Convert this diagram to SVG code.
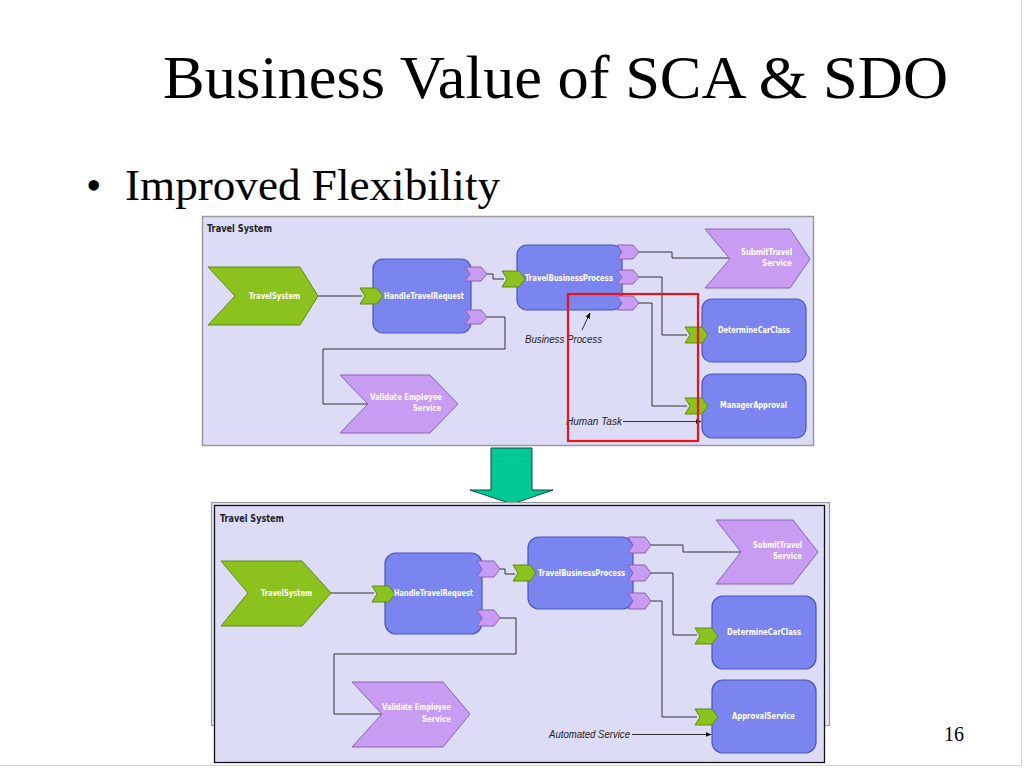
<svg xmlns="http://www.w3.org/2000/svg" width="1024" height="768" viewBox="0 0 1024 768">
<style>
.title{font-family:"Liberation Serif","Times New Roman",serif;fill:#000}
.frame{fill:#dcdcf7;stroke:#9a9a9a;stroke-width:1.5}
.g{fill:#8cc21e;stroke:#5e8a12;stroke-width:1}
.b{fill:#7b85ef;stroke:#4b55b5;stroke-width:1.2}
.p{fill:#c89cf3;stroke:#8a62b2;stroke-width:1}
.lbl{font-family:"DejaVu Sans Condensed","DejaVu Sans","Liberation Sans",sans-serif;font-stretch:condensed;font-weight:bold;fill:#fff;font-size:8px}
.hdr{font-family:"DejaVu Sans Condensed","DejaVu Sans","Liberation Sans",sans-serif;font-stretch:condensed;font-weight:bold;fill:#222;font-size:10px}
.note{font-family:"Liberation Sans","Arial",sans-serif;font-style:italic;fill:#222;font-size:10px}
.ln{fill:none;stroke:#333;stroke-width:1}
</style>
<defs>
<path id="port" d="M0,0 H16 L22,7 L16,14 H0 L5,7 Z"/>
<path id="portL" d="M0,0 H17 L23,8 L17,16 H0 L5,8 Z"/>
<marker id="ah" viewBox="0 0 10 10" refX="9" refY="5" markerWidth="6" markerHeight="6" orient="auto"><path d="M0,1 L10,5 L0,9 Z" fill="#111"/></marker>
</defs>
<rect width="1024" height="768" fill="#fff"/>
<path d="M1021.5,0 V765.5 H0" fill="none" stroke="#cfcfcf" stroke-width="1"/>

<text class="title" x="163" y="98" font-size="61" textLength="785" lengthAdjust="spacingAndGlyphs">Business Value of SCA &amp; SDO</text>
<text class="title" x="86" y="200" font-size="44">•</text>
<text class="title" x="125" y="200" font-size="44" textLength="375" lengthAdjust="spacingAndGlyphs">Improved Flexibility</text>
<text class="title" x="944" y="741" font-size="20">16</text>

<!-- TOP DIAGRAM -->
<g id="top-frame">
<rect class="frame" x="202.5" y="216.5" width="611" height="229"/>
<text class="hdr" x="207" y="232" textLength="65" lengthAdjust="spacingAndGlyphs">Travel System</text>
</g>
<g id="top-connectors">
<path class="ln" d="M318,296 H362"/>
<path class="ln" d="M487,274 H493 V279 H504"/>
<path class="ln" d="M487,317 H505 V349 H323 V404 H368"/>
<path class="ln" d="M639,252 H672 V258 H730"/>
<path class="ln" d="M639,277 H662 V335 H687"/>
<path class="ln" d="M639,303 H652 V406 H687"/>
<path class="ln" d="M582,330 L590,313" marker-end="url(#ah)"/>
<path class="ln" d="M623,421.5 H701" marker-end="url(#ah)"/>
</g>
<g id="top-travelsystem">
<polygon class="g" points="208,267 300,267 318,296 300,325 208,325 235,296"/>
<text class="lbl" x="249" y="299" textLength="51" lengthAdjust="spacingAndGlyphs">TravelSystem</text>
</g>
<g id="top-handletravelrequest">
<rect class="b" x="373" y="259" width="98" height="74" rx="10"/>
<use href="#portL" class="g" x="360" y="288"/>
<use href="#port" class="p" x="465" y="267"/>
<use href="#port" class="p" x="465" y="310"/>
<text class="lbl" x="384" y="299" textLength="80" lengthAdjust="spacingAndGlyphs">HandleTravelRequest</text>
</g>
<g id="top-validate">
<polygon class="p" points="340,375 430,375 458,404 430,433 340,433 368,404"/>
<text class="lbl" x="442" y="400" text-anchor="end" textLength="72" lengthAdjust="spacingAndGlyphs">Validate Employee</text>
<text class="lbl" x="441" y="411" text-anchor="end" textLength="28" lengthAdjust="spacingAndGlyphs">Service</text>
</g>
<g id="top-travelbusinessprocess">
<rect class="b" x="517" y="245" width="105" height="65" rx="10"/>
<use href="#portL" class="g" x="502" y="271"/>
<use href="#port" class="p" x="617" y="245"/>
<use href="#port" class="p" x="617" y="270"/>
<use href="#port" class="p" x="617" y="296"/>
<text class="lbl" x="525" y="281" textLength="88" lengthAdjust="spacingAndGlyphs">TravelBusinessProcess</text>
</g>
<g id="top-submittravel">
<polygon class="p" points="705,229 790,229 810,259 790,288 705,288 730,259"/>
<text class="lbl" x="792" y="255" text-anchor="end" textLength="51" lengthAdjust="spacingAndGlyphs">SubmitTravel</text>
<text class="lbl" x="792" y="266" text-anchor="end" textLength="30" lengthAdjust="spacingAndGlyphs">Service</text>
</g>
<g id="top-determinecarclass">
<rect class="b" x="702" y="299" width="104" height="63" rx="10"/>
<use href="#portL" class="g" x="685" y="327"/>
<text class="lbl" x="718" y="333" textLength="72" lengthAdjust="spacingAndGlyphs">DetermineCarClass</text>
</g>
<g id="top-managerapproval">
<rect class="b" x="702" y="374" width="104" height="64" rx="10"/>
<use href="#portL" class="g" x="685" y="398"/>
<text class="lbl" x="720" y="408" textLength="67" lengthAdjust="spacingAndGlyphs">ManagerApproval</text>
</g>
<g id="top-notes">
<text class="note" x="525" y="343" textLength="77" lengthAdjust="spacingAndGlyphs">Business Process</text>
<text class="note" x="566" y="425" textLength="56" lengthAdjust="spacingAndGlyphs">Human Task</text>
<rect x="568" y="294" width="130" height="147" fill="none" stroke="#e8141a" stroke-width="2.2"/>
</g>

<!-- ARROW -->
<g id="transition-arrow">
<polygon points="491,448 532,448 532,490 553,490 512,504 470,490 491,490" fill="#00c996" stroke="#0d4a3a" stroke-width="1"/>
</g>

<!-- BOTTOM DIAGRAM -->
<g id="bottom-frame">
<rect x="211.5" y="502.5" width="618" height="223" fill="#e6e6f8" stroke="#9a9a9a" stroke-width="1.2"/>
<rect x="214.5" y="505.5" width="610" height="257" fill="#dcdcf7" stroke="#111" stroke-width="1.3"/>
<text class="hdr" x="220" y="522" textLength="64" lengthAdjust="spacingAndGlyphs" font-size="11">Travel System</text>
</g>
<g id="bottom-connectors">
<path class="ln" d="M331,593 H374"/>
<path class="ln" d="M498,569 H505 V574 H515"/>
<path class="ln" d="M498,618 H516 V654 H334 V714 H382"/>
<path class="ln" d="M649,545 H683 V552 H741"/>
<path class="ln" d="M649,573 H673 V635 H697"/>
<path class="ln" d="M649,601 H662 V717 H697"/>
<path class="ln" d="M632,734.5 H711" marker-end="url(#ah)"/>
</g>
<g id="bottom-travelsystem">
<polygon class="g" points="221,561 302,561 331,593 302,626 221,626 248,593"/>
<text class="lbl" x="261" y="596" font-size="9" textLength="51" lengthAdjust="spacingAndGlyphs">TravelSystem</text>
</g>
<g id="bottom-handletravelrequest">
<rect class="b" x="385" y="553" width="97" height="81" rx="11"/>
<use href="#portL" class="g" x="372" y="586"/>
<use href="#portL" class="p" x="477" y="561"/>
<use href="#portL" class="p" x="477" y="610"/>
<text class="lbl" x="394" y="596" font-size="9" textLength="79" lengthAdjust="spacingAndGlyphs">HandleTravelRequest</text>
</g>
<g id="bottom-validate">
<polygon class="p" points="352,682 443,682 470,714 443,747 352,747 382,714"/>
<text class="lbl" x="451" y="710" font-size="9" text-anchor="end" textLength="69" lengthAdjust="spacingAndGlyphs">Validate Employee</text>
<text class="lbl" x="451" y="722" font-size="9" text-anchor="end" textLength="29" lengthAdjust="spacingAndGlyphs">Service</text>
</g>
<g id="bottom-travelbusinessprocess">
<rect class="b" x="528" y="537" width="105" height="72" rx="11"/>
<use href="#portL" class="g" x="513" y="565"/>
<use href="#portL" class="p" x="628" y="537"/>
<use href="#portL" class="p" x="628" y="565"/>
<use href="#portL" class="p" x="628" y="593"/>
<text class="lbl" x="538" y="576" font-size="9" textLength="87" lengthAdjust="spacingAndGlyphs">TravelBusinessProcess</text>
</g>
<g id="bottom-submittravel">
<polygon class="p" points="716,520 793,520 818,552 793,584 716,584 741,552"/>
<text class="lbl" x="802" y="548" font-size="9" text-anchor="end" textLength="49" lengthAdjust="spacingAndGlyphs">SubmitTravel</text>
<text class="lbl" x="802" y="559" font-size="9" text-anchor="end" textLength="29" lengthAdjust="spacingAndGlyphs">Service</text>
</g>
<g id="bottom-determinecarclass">
<rect class="b" x="712" y="596" width="104" height="73" rx="11"/>
<use href="#portL" class="g" x="695" y="628"/>
<text class="lbl" x="727" y="635" font-size="9" textLength="74" lengthAdjust="spacingAndGlyphs">DetermineCarClass</text>
</g>
<g id="bottom-approvalservice">
<rect class="b" x="712" y="680" width="104" height="73" rx="11"/>
<use href="#portL" class="g" x="695" y="709"/>
<text class="lbl" x="732" y="719" font-size="9" textLength="63" lengthAdjust="spacingAndGlyphs">ApprovalService</text>
</g>
<g id="bottom-notes">
<text class="note" x="549" y="738" font-size="11" textLength="81" lengthAdjust="spacingAndGlyphs">Automated Service</text>
</g>
</svg>
